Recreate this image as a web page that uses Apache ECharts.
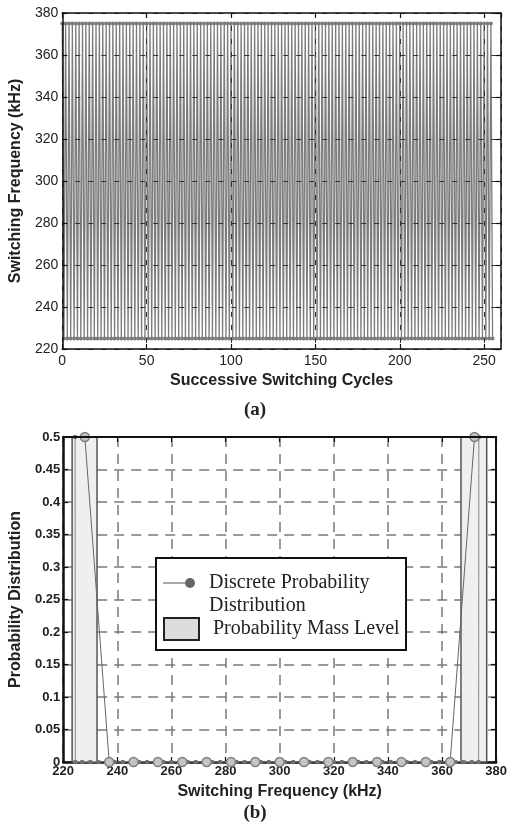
<!DOCTYPE html>
<html>
<head>
<meta charset="utf-8">
<script src="https://cdn.jsdelivr.net/npm/echarts@6/dist/echarts.min.js"></script>
<style>
  html, body { margin: 0; padding: 0; background: #fff; }
  #main { width: 510px; height: 833px; }
</style>
</head>
<body>
<div id="main"></div>
<script>
// (a) switching frequency of each successive cycle, kHz
const cycleFreq = [
  375, 225, 375, 225, 375, 225, 375, 225, 375, 225, 375, 225, 375, 225, 375, 225,
  375, 225, 375, 225, 375, 225, 375, 225, 375, 225, 375, 225, 375, 225, 375, 225,
  375, 225, 375, 225, 375, 225, 375, 225, 375, 225, 375, 225, 375, 225, 375, 225,
  375, 225, 375, 225, 375, 225, 375, 225, 375, 225, 375, 225, 375, 225, 375, 225,
  375, 225, 375, 225, 375, 225, 375, 225, 375, 225, 375, 225, 375, 225, 375, 225,
  375, 225, 375, 225, 375, 225, 375, 225, 375, 225, 375, 225, 375, 225, 375, 225,
  375, 225, 375, 225, 375, 225, 375, 225, 375, 225, 375, 225, 375, 225, 375, 225,
  375, 225, 375, 225, 375, 225, 375, 225, 375, 225, 375, 225, 375, 225, 375, 225,
  375, 225, 375, 225, 375, 225, 375, 225, 375, 225, 375, 225, 375, 225, 375, 225,
  375, 225, 375, 225, 375, 225, 375, 225, 375, 225, 375, 225, 375, 225, 375, 225,
  375, 225, 375, 225, 375, 225, 375, 225, 375, 225, 375, 225, 375, 225, 375, 225,
  375, 225, 375, 225, 375, 225, 375, 225, 375, 225, 375, 225, 375, 225, 375, 225,
  375, 225, 375, 225, 375, 225, 375, 225, 375, 225, 375, 225, 375, 225, 375, 225,
  375, 225, 375, 225, 375, 225, 375, 225, 375, 225, 375, 225, 375, 225, 375, 225,
  375, 225, 375, 225, 375, 225, 375, 225, 375, 225, 375, 225, 375, 225, 375, 225,
  375, 225, 375, 225, 375, 225, 375, 225, 375, 225, 375, 225, 375, 225, 375, 225
];

// (b) discrete probability distribution, fine frequency grid (kHz)
const fineFreq = [
  224.4, 224.5,
  227, 230, 233, 236, 239, 242, 245, 248, 251, 254, 257, 260, 263, 266, 269,
  272, 275, 278, 281, 284, 287, 290, 293, 296, 299, 302, 305, 308, 311, 314,
  317, 320, 323, 326, 329, 332, 335, 338, 341, 344, 347, 350, 353, 356, 359,
  362, 365, 368, 371,
  373.5, 373.6
];
const fineProb = [
  0.5, 0,
  0, 0, 0, 0, 0, 0, 0, 0, 0, 0, 0, 0, 0, 0, 0,
  0, 0, 0, 0, 0, 0, 0, 0, 0, 0, 0, 0, 0, 0, 0,
  0, 0, 0, 0, 0, 0, 0, 0, 0, 0, 0, 0, 0, 0, 0,
  0, 0, 0, 0,
  0, 0.5
];

// (b) coarse levels (circle markers)
const coarseFreq = [228, 237, 246, 255, 264, 273, 282, 291, 300, 309, 318, 327, 336, 345, 354, 363, 372];
const coarseProb = [0.5, 0, 0, 0, 0, 0, 0, 0, 0, 0, 0, 0, 0, 0, 0, 0, 0.5];

// (b) probability mass level bands
const massLow = [223.3, 367];
const massHigh = [232.5, 376.5];
const massLevel = [0.5, 0.5];

const SANS = '"Liberation Sans", Arial, sans-serif';
const SERIF = '"Liberation Serif", "Times New Roman", serif';

function pairs(xs, ys) {
  return xs.map(function (x, i) { return [x, ys[i]]; });
}

const chart = echarts.init(document.getElementById('main'));

const topGridLine = { show: true, lineStyle: { color: '#333', width: 1, type: [5, 8] } };
const botGridLine = { show: true, lineStyle: { color: '#7a7a7a', width: 1.5, type: [10, 7] } };

// frame axis (top / right) without labels
function frameAxis(gridIndex, min, max, interval, position, width) {
  return {
    type: 'value', gridIndex: gridIndex, min: min, max: max, interval: interval,
    position: position, z: 6,
    axisLine: { onZero: false, lineStyle: { color: '#111', width: width } },
    axisTick: { inside: true, length: 5, lineStyle: { color: '#111', width: 1.2 } },
    axisLabel: { show: false }, splitLine: { show: false }
  };
}

const option = {
  animation: false,
  backgroundColor: '#fff',
  grid: [
    { left: 62, top: 13, width: 439, height: 336 },
    { left: 63, top: 437, width: 437, height: 325 }
  ],
  xAxis: [
    {
      type: 'value', gridIndex: 0, min: 0, max: 260, interval: 50, z: 5,
      axisLine: { onZero: false, lineStyle: { color: '#111', width: 1.5 } },
      axisTick: { inside: true, length: 5, lineStyle: { color: '#111', width: 1.2 } },
      axisLabel: { fontSize: 14, color: '#222', margin: 5, fontFamily: SANS, showMaxLabel: false },
      splitLine: topGridLine,
      name: 'Successive Switching Cycles', nameLocation: 'middle', nameGap: 24,
      nameTextStyle: { fontSize: 16, fontWeight: 'bold', color: '#222', fontFamily: SANS }
    },
    frameAxis(0, 0, 260, 50, 'top', 1.5),
    {
      type: 'value', gridIndex: 1, min: 220, max: 380, interval: 20,
      axisLine: { onZero: false, lineStyle: { color: '#111', width: 2.5 } },
      axisTick: { inside: true, length: 5, lineStyle: { color: '#111', width: 1.2 } },
      axisLabel: { fontSize: 13, fontWeight: 'bold', color: '#222', margin: 3, fontFamily: SANS },
      splitLine: botGridLine,
      name: 'Switching Frequency (kHz)', nameLocation: 'middle', nameGap: 22,
      nameTextStyle: { fontSize: 16, fontWeight: 'bold', color: '#222', fontFamily: SANS }
    },
    frameAxis(1, 220, 380, 20, 'top', 2)
  ],
  yAxis: [
    {
      type: 'value', gridIndex: 0, min: 220, max: 380, interval: 20, z: 5,
      axisLine: { onZero: false, lineStyle: { color: '#111', width: 1.5 } },
      axisTick: { inside: true, length: 5, lineStyle: { color: '#111', width: 1.2 } },
      axisLabel: { fontSize: 14, color: '#222', margin: 4, fontFamily: SANS },
      splitLine: topGridLine,
      name: 'Switching Frequency (kHz)', nameLocation: 'middle', nameGap: 36,
      nameTextStyle: { fontSize: 16, fontWeight: 'bold', color: '#222', fontFamily: SANS }
    },
    frameAxis(0, 220, 380, 20, 'right', 1.5),
    {
      type: 'value', gridIndex: 1, min: 0, max: 0.5, interval: 0.05,
      axisLine: { onZero: false, lineStyle: { color: '#111', width: 2.5 } },
      axisTick: { inside: true, length: 5, lineStyle: { color: '#111', width: 1.2 } },
      axisLabel: { fontSize: 13, fontWeight: 'bold', color: '#222', margin: 3, fontFamily: SANS },
      splitLine: botGridLine,
      name: 'Probability Distribution', nameLocation: 'middle', nameGap: 37,
      nameTextStyle: { fontSize: 16, fontWeight: 'bold', color: '#222', fontFamily: SANS }
    },
    frameAxis(1, 0, 0.5, 0.05, 'right', 2)
  ],
  series: [
    {
      name: 'Switching Frequency', type: 'line', xAxisIndex: 0, yAxisIndex: 0,
      data: cycleFreq.map(function (v, i) { return [i, v]; }),
      symbol: 'circle', symbolSize: 4, showSymbol: true,
      lineStyle: { color: '#7c7c7c', width: 1.3 },
      itemStyle: { color: '#7c7c7c' }, z: 2
    },
    {
      name: 'Probability Mass Level', type: 'custom', xAxisIndex: 2, yAxisIndex: 2,
      data: massLow.map(function (lo, i) { return [lo, massHigh[i], massLevel[i]]; }),
      encode: { x: [0, 1], y: 2 },
      renderItem: function (params, api) {
        const p0 = api.coord([api.value(0), api.value(2)]);
        const p1 = api.coord([api.value(1), 0]);
        return {
          type: 'rect',
          shape: { x: p0[0], y: p0[1], width: p1[0] - p0[0], height: p1[1] - p0[1] },
          style: { fill: '#eeeff1', stroke: '#555', lineWidth: 1.5 }
        };
      },
      z: 2
    },
    {
      name: 'Discrete Probability Distribution', type: 'line', xAxisIndex: 2, yAxisIndex: 2,
      data: pairs(fineFreq, fineProb),
      symbol: 'circle', symbolSize: 4.5,
      lineStyle: { color: '#999', width: 1.2 },
      itemStyle: { color: '#707070' }, z: 3
    },
    {
      name: 'Discrete Levels', type: 'line', xAxisIndex: 2, yAxisIndex: 2,
      data: pairs(coarseFreq, coarseProb),
      symbol: 'circle', symbolSize: 9,
      lineStyle: { color: '#666', width: 1 },
      itemStyle: { color: '#c4c4c4', borderColor: '#808080', borderWidth: 1.5 }, z: 4
    }
  ],
  graphic: [
    { type: 'text', left: 'center', top: 401,
      style: { text: '(a)', font: 'bold 19px ' + SERIF, fill: '#222' } },
    { type: 'text', left: 'center', top: 804,
      style: { text: '(b)', font: 'bold 19px ' + SERIF, fill: '#222' } },
    {
      type: 'group', left: 155, top: 557, z: 100,
      children: [
        { type: 'rect', z: 100, shape: { x: 0, y: 0, width: 250, height: 92 },
          style: { fill: '#ffffff', stroke: '#111', lineWidth: 2 } },
        { type: 'line', z: 101, shape: { x1: 7, y1: 25, x2: 34, y2: 25 },
          style: { stroke: '#555', lineWidth: 1 } },
        { type: 'circle', z: 101, shape: { cx: 34, cy: 25, r: 5 },
          style: { fill: '#666' } },
        { type: 'text', z: 101, x: 53, y: 25,
          style: { text: 'Discrete Probability', font: '20px ' + SERIF, fill: '#222', verticalAlign: 'middle' } },
        { type: 'text', z: 101, x: 53, y: 48,
          style: { text: 'Distribution', font: '20px ' + SERIF, fill: '#222', verticalAlign: 'middle' } },
        { type: 'rect', z: 101, shape: { x: 8, y: 60, width: 35, height: 22 },
          style: { fill: '#dddddd', stroke: '#222', lineWidth: 2 } },
        { type: 'text', z: 101, x: 57, y: 71,
          style: { text: 'Probability Mass Level', font: '20px ' + SERIF, fill: '#222', verticalAlign: 'middle' } }
      ]
    }
  ]
};

chart.setOption(option);
</script>
</body>
</html>
